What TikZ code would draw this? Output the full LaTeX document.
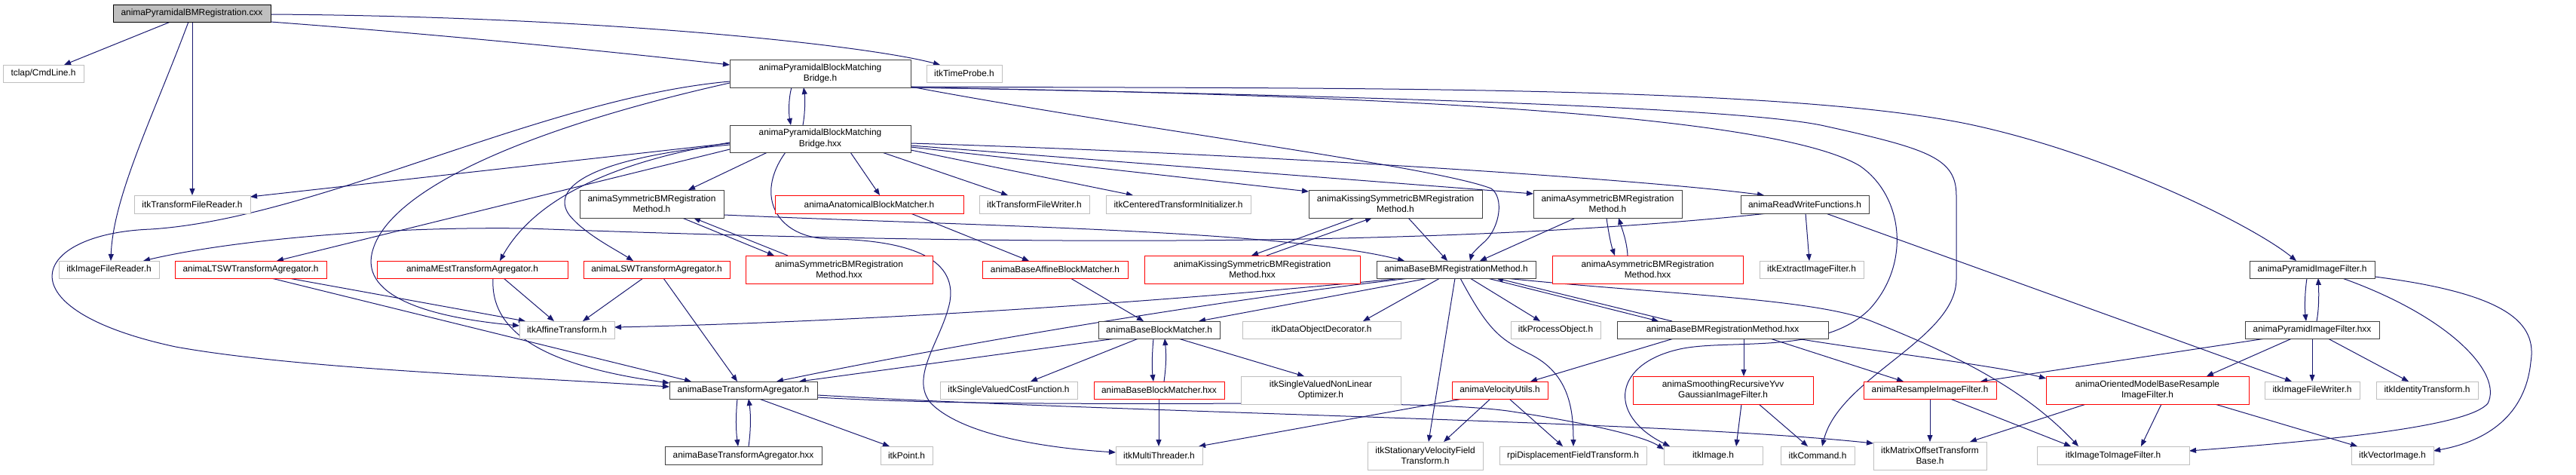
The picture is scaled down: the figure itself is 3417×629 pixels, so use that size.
\documentclass[tikz,border=0pt]{standalone}
\usepackage{fontspec}
\setmainfont{Liberation Sans}
\usetikzlibrary{arrows.meta,calc,backgrounds}
\definecolor{edgec}{RGB}{25,25,112}
\definecolor{grayc}{RGB}{191,191,191}
\definecolor{darkc}{RGB}{64,64,64}
\definecolor{rootfill}{RGB}{191,191,191}
\tikzset{
  box/.style={rectangle, fill=white, inner sep=0pt, outer sep=0pt, align=center, line width=1pt,
    font=\fontsize{11.9}{14.3}\selectfont},
  nblack/.style={box, draw=darkc},
  ngray/.style={box, draw=grayc},
  nred/.style={box, draw=red},
  nroot/.style={box, draw=black, fill=rootfill},
  edg/.style={draw=edgec, line width=1pt, -{Triangle[length=9pt,width=7pt]}}
}
\newcommand\mkbox[7]{\node[#6,minimum width={(#4-#2)*1pt},minimum height={(#5-#3)*1pt}] (#1) at ({(#2+#4)/2},{(#3+#5)/2}) {#7};}
\begin{document}
\begin{tikzpicture}[x=1pt,y=-1pt]
\useasboundingbox (0,0) rectangle (3417,629);
% nodes
\mkbox{root}{150}{6}{359}{29}{nroot}{animaPyramidalBMRegistration.cxx}
\mkbox{cmd}{4}{86}{111}{109}{ngray}{tclap/CmdLine.h}
\mkbox{bh}{968}{79}{1208}{116}{nblack}{animaPyramidalBlockMatching\\Bridge.h}
\mkbox{tp}{1229}{86}{1329}{109}{ngray}{itkTimeProbe.h}
\mkbox{bhxx}{968}{166}{1208}{202}{nblack}{animaPyramidalBlockMatching\\Bridge.hxx}
\mkbox{tfr}{178}{259}{332}{283}{ngray}{itkTransformFileReader.h}
\mkbox{symh}{769}{252}{960}{289}{nblack}{animaSymmetricBMRegistration\\Method.h}
\mkbox{anat}{1028}{259}{1278}{283}{nred}{animaAnatomicalBlockMatcher.h}
\mkbox{tfw}{1299}{259}{1445}{283}{ngray}{itkTransformFileWriter.h}
\mkbox{cti}{1467}{259}{1659}{283}{ngray}{itkCenteredTransformInitializer.h}
\mkbox{ksymh}{1736}{252}{1966}{289}{nblack}{animaKissingSymmetricBMRegistration\\Method.h}
\mkbox{asymh}{2034}{252}{2231}{289}{nblack}{animaAsymmetricBMRegistration\\Method.h}
\mkbox{rw}{2309}{259}{2479}{283}{nblack}{animaReadWriteFunctions.h}
\mkbox{ifr}{78}{346}{211}{369}{ngray}{itkImageFileReader.h}
\mkbox{ltsw}{232}{346}{433}{369}{nred}{animaLTSWTransformAgregator.h}
\mkbox{mest}{500}{346}{753}{369}{nred}{animaMEstTransformAgregator.h}
\mkbox{lsw}{774}{346}{968}{369}{nred}{animaLSWTransformAgregator.h}
\mkbox{symhxx}{989}{339}{1237}{376}{nred}{animaSymmetricBMRegistration\\Method.hxx}
\mkbox{baff}{1303}{346}{1496}{369}{nred}{animaBaseAffineBlockMatcher.h}
\mkbox{ksymhxx}{1518}{339}{1804}{376}{nred}{animaKissingSymmetricBMRegistration\\Method.hxx}
\mkbox{bbmh}{1826}{346}{2037}{369}{nblack}{animaBaseBMRegistrationMethod.h}
\mkbox{asymhxx}{2059}{339}{2312}{376}{nred}{animaAsymmetricBMRegistration\\Method.hxx}
\mkbox{eif}{2334}{346}{2472}{369}{ngray}{itkExtractImageFilter.h}
\mkbox{pifh}{2984}{346}{3150}{369}{nblack}{animaPyramidImageFilter.h}
\mkbox{aff}{689}{426}{815}{449}{ngray}{itkAffineTransform.h}
\mkbox{bbm}{1457}{426}{1618}{449}{nblack}{animaBaseBlockMatcher.h}
\mkbox{dod}{1648}{426}{1858}{449}{ngray}{itkDataObjectDecorator.h}
\mkbox{po}{2004}{426}{2123}{449}{ngray}{itkProcessObject.h}
\mkbox{bbmhxx}{2145}{426}{2425}{449}{nblack}{animaBaseBMRegistrationMethod.hxx}
\mkbox{pifhxx}{2978}{426}{3156}{449}{nblack}{animaPyramidImageFilter.hxx}
\mkbox{btah}{888}{506}{1084}{529}{nblack}{animaBaseTransformAgregator.h}
\mkbox{svcf}{1247}{506}{1429}{529}{ngray}{itkSingleValuedCostFunction.h}
\mkbox{bbmhx}{1451}{506}{1624}{529}{nred}{animaBaseBlockMatcher.hxx}
\mkbox{svnlo}{1646}{499}{1858}{536}{ngray}{itkSingleValuedNonLinear\\Optimizer.h}
\mkbox{vel}{1926}{506}{2053}{529}{nred}{animaVelocityUtils.h}
\mkbox{yvv}{2166}{499}{2405}{536}{nred}{animaSmoothingRecursiveYvv\\GaussianImageFilter.h}
\mkbox{rif}{2472}{506}{2648}{529}{nred}{animaResampleImageFilter.h}
\mkbox{ombr}{2714}{499}{2983}{536}{nred}{animaOrientedModelBaseResample\\ImageFilter.h}
\mkbox{ifw}{3004}{506}{3130}{529}{ngray}{itkImageFileWriter.h}
\mkbox{idt}{3152}{506}{3287}{529}{ngray}{itkIdentityTransform.h}
\mkbox{btahxx}{882}{592}{1090}{616}{nblack}{animaBaseTransformAgregator.hxx}
\mkbox{pt}{1168}{592}{1237}{616}{ngray}{itkPoint.h}
\mkbox{mt}{1480}{592}{1595}{616}{ngray}{itkMultiThreader.h}
\mkbox{svft}{1814}{586}{1967}{623}{ngray}{itkStationaryVelocityField\\Transform.h}
\mkbox{rpi}{1989}{592}{2184}{616}{ngray}{rpiDisplacementFieldTransform.h}
\mkbox{img}{2207}{592}{2338}{616}{ngray}{itkImage.h}
\mkbox{cmdh}{2362}{592}{2460}{616}{ngray}{itkCommand.h}
\mkbox{motb}{2485}{586}{2635}{623}{ngray}{itkMatrixOffsetTransform\\Base.h}
\mkbox{i2i}{2702}{592}{2904}{616}{ngray}{itkImageToImageFilter.h}
\mkbox{vi}{3119}{592}{3228}{616}{ngray}{itkVectorImage.h}
\begin{pgfonlayer}{background}
% root
\draw[edg] ($(root.north west)+(76,23)$) -- ($(cmd.north west)+(81,0)$);
\draw[edg] ($(root.north west)+(209,23)$) .. controls (560,44) and (770,64) .. ($(bh.north west)+(0,7)$);
\draw[edg] ($(root.north west)+(209,13)$) .. controls (800,22) and (1150,60) .. ($(tp.north west)+(18,0)$);
\draw[edg] ($(root.north west)+(105,23)$) -- ($(tfr.north west)+(77,0)$);
\draw[edg] ($(root.north west)+(100,23)$) .. controls (205,150) and (150,260) .. ($(ifr.north west)+(69,0)$);
% bridge.h
\draw[edg] ($(bh.north west)+(82,37)$) .. controls (1046,130) and (1046,150) .. ($(bhxx.north west)+(81,0)$);
\draw[edg] ($(bhxx.north west)+(97,0)$) .. controls (1068,150) and (1068,130) .. ($(bh.north west)+(98,37)$);
\draw[edg] ($(bh.north west)+(0,29)$) .. controls (720,130) and (420,290) .. (200,304) .. controls (40,310) and (0,410) .. (233,460) .. controls (400,490) and (700,500) .. ($(btah.north west)+(0,7)$);
\draw[edg] ($(bh.north west)+(0,31)$) .. controls (700,170) and (520,250) .. (495,330) .. controls (475,390) and (560,420) .. ($(aff.north west)+(0,6)$);
\draw[edg] ($(bh.north west)+(240,36)$) .. controls (1500,170) and (1900,220) .. (1978,250) .. controls (1995,262) and (1990,300) .. (1970,320) .. controls (1958,330) and (1952,338) .. ($(bbmh.north west)+(124,0)$);
\draw[edg] ($(bh.north west)+(240,36)$) .. controls (1700,118) and (2350,110) .. (2613,165) .. controls (2800,205) and (2990,300) .. ($(pifh.north west)+(62,0)$);
\draw[edg] ($(bh.north west)+(240,37)$) .. controls (1700,125) and (2300,140) .. (2420,167) .. controls (2560,198) and (2595,210) .. (2595,260) -- (2595,370) .. controls (2595,450) and (2440,500) .. ($(cmdh.north west)+(55,0)$);
\draw[edg] ($(bh.north west)+(240,37)$) .. controls (1800,125) and (2350,150) .. (2467,220) .. controls (2525,260) and (2535,350) .. (2480,410) .. controls (2420,470) and (2300,450) .. (2233,462) .. controls (2140,480) and (2130,550) .. ($(img.north west)+(8,0)$);
% bridge.hxx
\draw[edg] ($(bhxx.north west)+(0,24)$) -- ($(tfr.north west)+(154,2)$);
\draw[edg] ($(bhxx.north west)+(0,32)$) -- ($(ltsw.north west)+(135,0)$);
\draw[edg] ($(bhxx.north west)+(0,23)$) .. controls (780,220) and (700,280) .. ($(mest.north west)+(163,0)$);
\draw[edg] ($(bhxx.north west)+(0,26)$) .. controls (780,210) and (730,250) .. (755,285) .. controls (775,310) and (815,330) .. ($(lsw.north west)+(66,0)$);
\draw[edg] ($(bhxx.north west)+(50,36)$) -- ($(symh.north west)+(144,0)$);
\draw[edg] ($(bhxx.north west)+(74,36)$) .. controls (1000,260) and (1030,315) .. (1100,317) .. controls (1200,318) and (1270,340) .. (1260,400) .. controls (1250,450) and (1205,500) .. (1235,535) .. controls (1280,580) and (1400,595) .. ($(mt.north west)+(0,8)$);
\draw[edg] ($(bhxx.north west)+(160,36)$) -- ($(anat.north west)+(139,0)$);
\draw[edg] ($(bhxx.north west)+(202,36)$) -- ($(tfw.north west)+(38,0)$);
\draw[edg] ($(bhxx.north west)+(240,33)$) -- ($(cti.north west)+(36,0)$);
\draw[edg] ($(bhxx.north west)+(240,29)$) -- ($(ksymh.north west)+(0,2)$);
\draw[edg] ($(bhxx.north west)+(240,27)$) -- ($(asymh.north west)+(0,5)$);
\draw[edg] ($(bhxx.north west)+(240,24)$) .. controls (1700,205) and (2200,240) .. ($(rw.north west)+(31,0)$);
% agregators
\draw[edg] ($(ltsw.north west)+(151,23)$) -- ($(aff.north west)+(8,0)$);
\draw[edg] ($(ltsw.north west)+(128,23)$) -- ($(btah.north west)+(29,0)$);
\draw[edg] ($(mest.north west)+(168,23)$) -- ($(aff.north west)+(46,0)$);
\draw[edg] ($(mest.north west)+(154,23)$) .. controls (650,440) and (720,485) .. ($(btah.north west)+(0,2)$);
\draw[edg] ($(lsw.north west)+(79,23)$) -- ($(aff.north west)+(84,0)$);
\draw[edg] ($(lsw.north west)+(106,23)$) -- ($(btah.north west)+(90,0)$);
% registration methods
\draw[edg] ($(symh.north west)+(136,37)$) -- ($(symhxx.north west)+(38,0)$);
\draw[edg] ($(symhxx.north west)+(56,0)$) -- ($(symh.north west)+(151,37)$);
\draw[edg] ($(symh.north west)+(191,33)$) .. controls (1300,300) and (1700,305) .. ($(bbmh.north west)+(37,0)$);
\draw[edg] ($(ksymh.north west)+(61,37)$) -- ($(ksymhxx.north west)+(142,0)$);
\draw[edg] ($(ksymhxx.north west)+(162,0)$) -- ($(ksymh.north west)+(84,37)$);
\draw[edg] ($(ksymh.north west)+(132,37)$) -- ($(bbmh.north west)+(94,0)$);
\draw[edg] ($(asymh.north west)+(97,37)$) .. controls (2133,305) and (2137,325) .. ($(asymhxx.north west)+(83,0)$);
\draw[edg] ($(asymhxx.north west)+(100,0)$) .. controls (2158,320) and (2152,305) .. ($(asymh.north west)+(113,37)$);
\draw[edg] ($(asymh.north west)+(56,37)$) -- ($(bbmh.north west)+(137,0)$);
\draw[edg] ($(anat.north west)+(180,24)$) -- ($(baff.north west)+(62,0)$);
\draw[edg] ($(baff.north west)+(117,23)$) -- ($(bbm.north west)+(60,0)$);
% read write
\draw[edg] ($(rw.north west)+(86,24)$) -- ($(eif.north west)+(66,0)$);
\draw[edg] ($(rw.north west)+(36,24)$) .. controls (1900,330) and (1300,325) .. (700,303) .. controls (500,300) and (300,320) .. ($(ifr.north west)+(112,0)$);
\draw[edg] ($(rw.north west)+(113,24)$) -- ($(ifw.north west)+(36,0)$);
% base BM registration method
\draw[edg] ($(bbmh.north west)+(34,23)$) .. controls (1500,405) and (1100,428) .. ($(aff.north west)+(126,8)$);
\draw[edg] ($(bbmh.north west)+(44,23)$) .. controls (1600,400) and (1250,460) .. ($(btah.north west)+(142,0)$);
\draw[edg] ($(bbmh.north west)+(69,23)$) -- ($(bbm.north west)+(133,0)$);
\draw[edg] ($(bbmh.north west)+(84,23)$) -- ($(dod.north west)+(160,0)$);
\draw[edg] ($(bbmh.north west)+(104,23)$) -- ($(svft.north west)+(81,0)$);
\draw[edg] ($(bbmh.north west)+(111,23)$) .. controls (1975,440) and (1990,450) .. (2030,470) .. controls (2080,495) and (2087,540) .. ($(rpi.north west)+(98,0)$);
\draw[edg] ($(bbmh.north west)+(124,23)$) -- ($(po.north west)+(39,0)$);
\draw[edg] ($(bbmh.north west)+(147,23)$) -- ($(bbmhxx.north west)+(55,0)$);
\draw[edg] ($(bbmhxx.north west)+(73,0)$) -- ($(bbmh.north west)+(159,23)$);
\draw[edg] ($(bbmh.north west)+(171,23)$) .. controls (2200,390) and (2400,395) .. (2480,425) .. controls (2580,465) and (2680,510) .. ($(i2i.north west)+(55,0)$);
% block matcher
\draw[edg] ($(bbm.north west)+(23,23)$) -- ($(btah.north west)+(172,0)$);
\draw[edg] ($(bbm.north west)+(53,23)$) -- ($(svcf.north west)+(120,0)$);
\draw[edg] ($(bbm.north west)+(73,23)$) .. controls (1528,470) and (1528,490) .. ($(bbmhx.north west)+(79,0)$);
\draw[edg] ($(bbmhx.north west)+(93,0)$) .. controls (1547,485) and (1547,470) .. ($(bbm.north west)+(88,23)$);
\draw[edg] ($(bbm.north west)+(106,23)$) -- ($(svnlo.north west)+(84,0)$);
\draw[edg] ($(bbmhx.north west)+(86,23)$) -- ($(mt.north west)+(57,0)$);
% base BM registration method hxx
\draw[edg] ($(bbmhxx.north west)+(75,23)$) -- ($(vel.north west)+(104,0)$);
\draw[edg] ($(bbmhxx.north west)+(168,23)$) -- ($(yvv.north west)+(147,0)$);
\draw[edg] ($(bbmhxx.north west)+(203,23)$) -- ($(rif.north west)+(53,0)$);
\draw[edg] ($(bbmhxx.north west)+(238,23)$) .. controls (2500,468) and (2650,485) .. ($(ombr.north west)+(0,3)$);
% lower row
\draw[edg] ($(vel.north west)+(14,23)$) -- ($(mt.north west)+(110,0)$);
\draw[edg] ($(vel.north west)+(51,23)$) -- ($(svft.north west)+(101,0)$);
\draw[edg] ($(vel.north west)+(76,23)$) -- ($(rpi.north west)+(84,0)$);
\draw[edg] ($(yvv.north west)+(144,37)$) -- ($(img.north west)+(96,0)$);
\draw[edg] ($(yvv.north west)+(167,37)$) -- ($(cmdh.north west)+(36,0)$);
\draw[edg] ($(rif.north west)+(88,23)$) -- ($(motb.north west)+(75,0)$);
\draw[edg] ($(rif.north west)+(115,23)$) -- ($(i2i.north west)+(45,0)$);
\draw[edg] ($(ombr.north west)+(53,37)$) -- ($(motb.north west)+(128,0)$);
\draw[edg] ($(ombr.north west)+(153,37)$) -- ($(i2i.north west)+(138,0)$);
\draw[edg] ($(ombr.north west)+(224,37)$) -- ($(vi.north west)+(8,0)$);
% pyramid filter
\draw[edg] ($(pifh.north west)+(76,23)$) .. controls (3057,390) and (3057,410) .. ($(pifhxx.north west)+(81,0)$);
\draw[edg] ($(pifhxx.north west)+(95,0)$) .. controls (3076,410) and (3076,390) .. ($(pifh.north west)+(91,23)$);
\draw[edg] ($(pifh.north west)+(123,23)$) .. controls (3250,420) and (3320,495) .. (3300,535) .. controls (3275,565) and (3100,583) .. ($(i2i.north west)+(202,6)$);
\draw[edg] ($(pifh.north west)+(166,21)$) .. controls (3330,390) and (3365,430) .. (3357,480) .. controls (3350,550) and (3300,585) .. ($(vi.north west)+(109,6)$);
\draw[edg] ($(pifhxx.north west)+(27,23)$) -- ($(rif.north west)+(155,0)$);
\draw[edg] ($(pifhxx.north west)+(62,23)$) -- ($(ombr.north west)+(213,0)$);
\draw[edg] ($(pifhxx.north west)+(89,23)$) -- ($(ifw.north west)+(63,0)$);
\draw[edg] ($(pifhxx.north west)+(110,23)$) -- ($(idt.north west)+(43,0)$);
% transform agregator
\draw[edg] ($(btah.north west)+(90,23)$) .. controls (976,550) and (976,570) .. ($(btahxx.north west)+(97,0)$);
\draw[edg] ($(btahxx.north west)+(111,0)$) .. controls (996,570) and (996,550) .. ($(btah.north west)+(105,23)$);
\draw[edg] ($(btah.north west)+(119,23)$) -- ($(pt.north west)+(12,0)$);
\draw[edg] ($(btah.north west)+(196,21)$) .. controls (1400,545) and (1850,525) .. (2000,545) .. controls (2100,560) and (2180,578) .. ($(img.north west)+(0,4)$);
\draw[edg] ($(btah.north west)+(196,18)$) .. controls (1500,548) and (2200,558) .. ($(motb.north west)+(0,2)$);
\end{pgfonlayer}
\end{tikzpicture}
\end{document}
